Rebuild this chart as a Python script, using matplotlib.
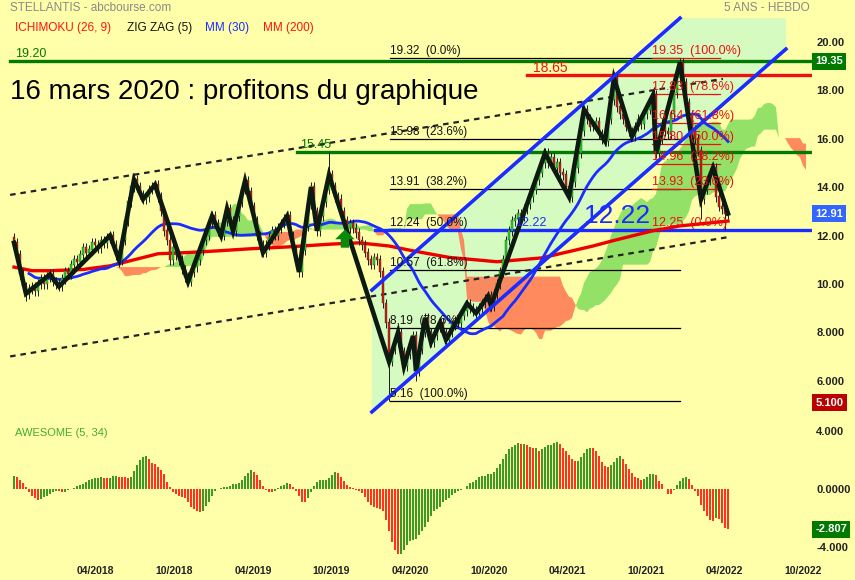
import matplotlib
matplotlib.use("Agg")
import matplotlib.pyplot as plt
import numpy as np
import pandas as pd

plt.rcParams['font.family'] = ['Liberation Sans', 'DejaVu Sans']

# weekly closes, one per week (oct 2017 -> apr 2022)
closes = [
    11.7, 11.2, 10.4, 9.9, 9.6,
    9.8, 9.9, 9.7, 10.0, 10.2, 10.0, 10.3, 10.4,
    10.1, 10.0, 9.9,
    10.2, 10.5, 10.4, 10.8, 11.0, 10.9, 11.2, 11.5, 11.3, 11.4, 11.7, 11.6, 11.5, 11.8, 11.7, 11.9, 12.0,
    11.6, 11.2, 11.0,
    11.8, 12.6, 13.4, 14.0, 14.3,
    14.0, 13.7, 13.5,
    13.6, 13.9, 14.0, 14.1,
    13.6, 13.0, 12.2, 11.8, 11.0, 11.5, 11.2, 11.0, 10.6, 10.3, 10.1,
    10.5, 10.7, 11.0, 11.4, 11.8, 12.0, 12.5, 12.8,
    12.5, 12.2, 12.0,
    12.6, 13.1,
    12.6, 12.2,
    12.8, 13.4, 13.9, 14.25,
    13.8, 13.2, 12.6, 12.0, 11.6, 11.3,
    11.6, 11.9, 12.2, 12.0, 12.3, 12.5, 12.7, 12.8,
    12.0, 11.4, 10.9, 10.5,
    11.4, 12.4, 13.3, 14.0,
    13.0, 12.2,
    12.8, 13.4, 13.9, 14.5,
    14.0, 13.6, 13.5, 13.0, 12.6, 12.3, 12.5, 12.3, 12.1, 11.8, 11.6, 11.3, 11.0, 10.8, 11.1, 11.0, 10.5, 9.2, 8.4,
    6.8,
    7.3, 7.6, 8.0,
    7.2, 6.6,
    7.1, 7.5, 7.85,
    6.4,
    7.3, 8.0, 8.6,
    8.0, 7.6,
    7.9, 8.2, 8.4,
    8.0, 7.7,
    8.0, 8.3, 8.5, 8.4, 8.7, 8.9, 9.2,
    9.0, 8.9, 8.8,
    9.0, 9.2, 9.4, 9.5,
    9.1,
    9.6, 10.0, 10.5,
    11.0, 11.8, 12.2, 12.6, 12.7, 12.9,
    12.8, 13.1, 13.3, 13.6, 13.9, 14.3, 14.6, 15.0, 15.4,
    15.0, 15.2, 14.8, 15.0, 14.6, 14.5, 14.0, 13.6,
    14.2, 14.8, 15.4, 16.3, 17.2,
    16.8, 16.5, 16.5, 16.7, 16.2, 16.0, 15.9,
    16.8, 17.6, 18.5,
    17.3, 17.0, 16.8, 16.5, 16.3, 16.1,
    16.5, 16.8, 16.6, 17.0, 17.2, 17.5, 17.8,
    15.4,
    16.0, 16.6, 16.3, 16.2, 17.0, 17.9, 18.5, 19.15,
    18.3, 17.5, 17.0, 16.35, 16.0, 15.5, 13.5,
    13.9, 14.3, 14.6, 14.8,
    13.6, 13.2, 13.1, 12.9, 12.91,
]
first_open = 11.9
long_highs = {40: 14.6, 105: 15.45, 200: 18.75, 222: 19.35}
long_lows = {4: 9.3, 125: 5.16, 134: 6.0, 229: 12.7, 237: 12.25}

# awesome oscillator (5, 34), one bar per week
ao = [
    0.90, 0.81, 0.62, 0.42, 0.16, -0.19, -0.46, -0.65, -0.74, -0.72,
    -0.56, -0.51, -0.32, -0.19, -0.12, -0.14, -0.20, -0.18, -0.05, 0.00,
    0.07, 0.20, 0.28, 0.35, 0.46, 0.62, 0.69, 0.76, 0.78, 0.80,
    0.76, 0.75, 0.79, 0.90, 0.91, 0.83, 0.82, 0.81, 0.76, 0.83,
    1.25, 1.67, 2.00, 2.22, 2.29, 2.08, 1.81, 1.74, 1.53, 1.32,
    1.04, 0.49, 0.14, -0.19, -0.32, -0.46, -0.56, -0.60, -0.88, -1.23,
    -1.39, -1.53, -1.62, -1.53, -1.16, -0.88, -0.46, -0.12, 0.00, 0.07,
    0.14, 0.15, 0.21, 0.35, 0.36, 0.42, 0.62, 0.90, 1.11, 1.32,
    1.18, 0.97, 0.62, 0.21, -0.05, -0.19, -0.20, -0.12, 0.05, 0.21,
    0.28, 0.42, 0.35, 0.14, -0.12, -0.46, -0.88, -0.89, -0.60, -0.19,
    0.21, 0.49, 0.62, 0.63, 0.64, 0.76, 0.97, 1.18, 1.11, 0.83,
    0.56, 0.28, 0.14, 0.07, -0.05, -0.12, -0.25, -0.53, -0.88, -1.09,
    -1.23, -1.30, -1.37, -1.50, -2.13, -2.89, -3.66, -4.21, -4.49, -4.48,
    -4.21, -3.87, -3.59, -3.52, -3.45, -3.17, -2.89, -2.62, -2.27, -1.85,
    -1.50, -1.37, -1.23, -0.88, -0.74, -0.60, -0.39, -0.25, -0.12, -0.05,
    -0.03, 0.21, 0.42, 0.49, 0.62, 0.83, 0.90, 0.91, 1.04, 1.05,
    1.18, 1.46, 1.74, 2.08, 2.43, 2.78, 2.92, 3.06, 3.19, 3.13,
    3.14, 3.06, 2.92, 2.85, 2.86, 2.64, 2.78, 2.92, 3.06, 3.07,
    3.19, 3.26, 3.13, 2.85, 2.64, 2.36, 2.08, 1.94, 1.95, 2.22,
    2.50, 2.78, 2.85, 2.84, 2.64, 2.29, 1.88, 1.60, 1.53, 1.67,
    1.88, 2.15, 2.29, 2.08, 1.74, 1.39, 1.11, 0.83, 0.76, 0.62,
    0.69, 0.83, 1.04, 1.05, 0.97, 0.56, 0.35, -0.02, -0.35, -0.36,
    -0.05, 0.28, 0.56, 0.76, 0.83, 0.69, 0.28, -0.12, -0.49, -1.11,
    -1.53, -1.88, -2.15, -2.22, -2.01, -2.08, -2.36, -2.71, -2.81,
]

# MM(200) read at a few weeks
mm200_idx = [0, 6, 12, 23, 32, 40, 48, 58, 68, 78, 91, 106, 115, 125, 133, 145, 161, 176, 193, 200, 213, 222, 238]
mm200_val = [10.7, 10.55, 10.55, 10.6, 10.75, 11.0, 11.25, 11.3, 11.37, 11.45, 11.53, 11.65, 11.7,
             11.57, 11.37, 11.1, 10.92, 11.08, 11.57, 11.8, 12.2, 12.4, 12.6]

# zigzag (5) pivot weeks
zz_idx = [0, 4, 12, 15, 32, 35, 40, 43, 47, 58, 66, 69, 71, 73, 77, 83, 91, 95, 99, 101, 105,
          125, 128, 130, 133, 134, 137, 139, 142, 144, 151, 154, 158, 159, 177, 185, 190, 197,
          200, 206, 213, 214, 222, 229, 233, 238]

fib1_levels = [19.32, 15.98, 13.91, 12.24, 10.57, 8.19, 5.16]
fib1_pcts = ['0.0%', '23.6%', '38.2%', '50.0%', '61.8%', '78.6%', '100.0%']
fib2_levels = [19.35, 17.83, 16.64, 15.80, 14.96, 13.93, 12.25]
fib2_pcts = ['100.0%', '78.6%', '61.8%', '50.0%', '38.2%', '23.6%', '0.0%']

# trend channels (week, price) at both ends
chan_up = [(119.3, 9.75), (222.0, 20.98)]
chan_lo = [(119.3, 4.72), (257.3, 19.70)]
dash_up = [(-1.3, 13.68), (236.3, 18.47)]
dash_lo = [(-1.3, 7.01), (238.7, 11.95)]

date_ticks = [27, 53.5, 79.8, 105.8, 132, 158.3, 184.3, 210.7, 236.7, 262.9]
date_labels = ['04/2018', '10/2018', '04/2019', '10/2019', '04/2020',
               '10/2020', '04/2021', '10/2021', '04/2022', '10/2022']
price_ticks = [6, 8, 10, 12, 14, 16, 18, 20]
price_labels = ['6.000', '8.000', '10.00', '12.00', '14.00', '16.00', '18.00', '20.00']

BG = '#ffffaa'
n = len(closes)
idx = np.arange(n)
c = np.array(closes)
o = np.concatenate([[first_open], c[:-1]])
hi = np.maximum(o, c) + 0.2
lo = np.minimum(o, c) - 0.2
for k, v in long_highs.items():
    hi[k] = v
for k, v in long_lows.items():
    lo[k] = v

fig = plt.figure(figsize=(8.55, 5.8), dpi=100, facecolor=BG)
ax = fig.add_axes([0, 160 / 580, 812 / 855, 420 / 580], facecolor=BG)
ax2 = fig.add_axes([0, 20 / 580, 812 / 855, 140 / 580], facecolor=BG)
for a in (ax, ax2):
    a.set_xlim(-14 / 3, 266)
    for s in a.spines.values():
        s.set_visible(False)
ax.set_ylim(4.386, 21.727)
ax2.set_ylim(-4.93, 4.79)

# channel background
ax.fill([chan_lo[0][0], chan_lo[1][0], chan_lo[1][0], chan_up[1][0], chan_up[0][0]],
        [chan_lo[0][1], chan_lo[1][1], chan_up[1][1], chan_up[1][1], chan_up[0][1]],
        color='#d6fbc0', lw=0, zorder=1)

# ichimoku cloud
h = pd.Series(hi)
l = pd.Series(lo)
tenkan = (h.rolling(9, min_periods=1).max() + l.rolling(9, min_periods=1).min()) / 2
kijun = (h.rolling(26, min_periods=1).max() + l.rolling(26, min_periods=1).min()) / 2
span_a = ((tenkan + kijun) / 2).values
span_b = ((h.rolling(52, min_periods=1).max() + l.rolling(52, min_periods=1).min()) / 2).values
xc = idx + 26
ax.fill_between(xc, span_a, span_b, where=span_a >= span_b, interpolate=True,
                color='#80dc5c', alpha=0.85, lw=0, zorder=2)
ax.fill_between(xc, span_a, span_b, where=span_a < span_b, interpolate=True,
                color='#ff7650', alpha=0.85, lw=0, zorder=2)

# fibonacci retracements
for v, p in zip(fib1_levels, fib1_pcts):
    ax.plot([125.3, 222], [v, v], color='black', lw=0.9, zorder=3)
    ax.text(125.3, v + 0.04, '%.2f  (%s)' % (v, p), fontsize=8.5, color='#111111',
            va='bottom', ha='left', zorder=9)
for v, p in zip(fib2_levels, fib2_pcts):
    ax.plot([212.7, 235.3], [v, v], color='#ee1111', lw=0.9, zorder=3)
    ax.text(212.7, v + 0.04, '%.2f  (%s)' % (v, p), fontsize=9, color='#ee1111',
            va='bottom', ha='left', zorder=9)

# dashed channel
for d in (dash_up, dash_lo):
    ax.plot([d[0][0], d[1][0]], [d[0][1], d[1][1]], color='#222222', lw=1.6,
            dashes=(2.5, 2.2), zorder=3)

# horizontal levels
ax.plot([-1.3, 265.3], [19.20, 19.20], color='#007a00', lw=2.4, zorder=4)
ax.plot([94.3, 265.3], [15.45, 15.45], color='#007a00', lw=2.4, zorder=4)
ax.plot([171, 265.3], [18.65, 18.65], color='#ee1111', lw=2.4, zorder=4)
ax.plot([120.3, 265.3], [12.22, 12.22], color='#1a2cff', lw=2.4, zorder=4)
ax.text(0.4, 19.26, '19.20', color='#007a00', fontsize=9, va='bottom')
ax.text(95.3, 15.51, '15.45', color='#007a00', fontsize=9, va='bottom')
ax.text(173, 18.93, '18.65', color='#ee1111', fontsize=10, va='center', zorder=9)
ax.text(167, 12.28, '12.22', color='#1a2cff', fontsize=9, va='bottom', zorder=9)
ax.text(190, 12.3, '12.22', color='#1a2cff', fontsize=19, va='bottom', zorder=9)

# moving averages
ax.plot(mm200_idx, mm200_val, color='#ee0000', lw=2.4, zorder=5)
mm30 = pd.Series(c).rolling(30, min_periods=1).mean().values
ax.plot(idx[5:], mm30[5:], color='#1a2cff', lw=2.0, zorder=5)

# candles
up = c >= o
ax.vlines(idx, lo, hi, color='#1a1a1a', lw=0.7, zorder=6)
ax.bar(idx, np.abs(c - o) + 0.03, bottom=np.minimum(o, c), width=0.7,
       color=np.where(up, '#22dd22', '#dd1111'), edgecolor='#204020', lw=0.3, zorder=6)

# zigzag
ax.plot(zz_idx, c[zz_idx], color='#0c1a12', lw=3.3, solid_joinstyle='miter', zorder=7)

# blue channel
for ch in (chan_up, chan_lo):
    ax.plot([ch[0][0], ch[1][0]], [ch[0][1], ch[1][1]], color='#1a2cff', lw=2.6, zorder=8)

# buy arrow
ax.annotate('', xy=(110.3, 12.25), xytext=(110.3, 11.5),
            arrowprops=dict(facecolor='#0a8a0a', edgecolor='none', width=6,
                            headwidth=14, headlength=7), zorder=8)

# price axis labels
ax.yaxis.tick_right()
ax.set_yticks(price_ticks)
ax.set_yticklabels(price_labels)
ax.tick_params(axis='y', length=0, pad=3, labelsize=8, labelcolor='#222222')
ax.set_xticks([])
for lab in ax.get_yticklabels():
    lab.set_fontweight('bold')
tr = ax.get_yaxis_transform()
for val, txt, col in [(19.2, '19.35', '#007a00'), (12.91, '12.91', '#3366ff'), (5.1, '5.100', '#bb0000')]:
    ax.text(1.004, val, txt, transform=tr, color='white', fontsize=8, fontweight='bold',
            va='center', ha='left', clip_on=False,
            bbox=dict(boxstyle='square,pad=0.3', facecolor=col, edgecolor='none'))

# awesome oscillator
ao_arr = np.array(ao)
ao_col = ['#3c9a22'] + ['#3c9a22' if ao_arr[i] > ao_arr[i - 1] else '#ff3322' for i in range(1, len(ao_arr))]
ax2.bar(np.arange(len(ao_arr)), ao_arr, width=0.68, color=ao_col, lw=0)
ax2.yaxis.tick_right()
ax2.set_yticks([-4, 0, 4])
ax2.set_yticklabels(['-4.000', '0.0000', '4.000'])
ax2.tick_params(axis='y', length=0, pad=3, labelsize=8, labelcolor='#222222')
ax2.set_xticks(date_ticks)
ax2.set_xticklabels(date_labels)
ax2.tick_params(axis='x', length=0, pad=4, labelsize=7.5, labelcolor='#222222')
for lab in ax2.get_yticklabels() + ax2.get_xticklabels():
    lab.set_fontweight('bold')
ax2.text(1.004, -2.807, '-2.807', transform=ax2.get_yaxis_transform(), color='white',
         fontsize=8, fontweight='bold', va='center', ha='left', clip_on=False,
         bbox=dict(boxstyle='square,pad=0.3', facecolor='#007a00', edgecolor='none'))

# header texts (pixel positions)
def fx(x):
    return x / 855

def fy(y):
    return 1 - y / 580

fig.text(fx(10), fy(8), 'STELLANTIS - abcbourse.com', color='#888888', fontsize=8.5, va='center')
fig.text(fx(810), fy(8), '5 ANS - HEBDO', color='#888888', fontsize=8.5, va='center', ha='right')
fig.text(fx(15), fy(28), 'ICHIMOKU (26, 9)', color='#ff1111', fontsize=8.5, va='center')
fig.text(fx(127), fy(28), 'ZIG ZAG (5)', color='#111111', fontsize=8.5, va='center')
fig.text(fx(205), fy(28), 'MM (30)', color='#1a2cff', fontsize=8.5, va='center')
fig.text(fx(263), fy(28), 'MM (200)', color='#ff1111', fontsize=8.5, va='center')
fig.text(fx(10), fy(92), '16 mars 2020 : profitons du graphique', color='black', fontsize=20, va='center')
fig.text(fx(15), fy(433), 'AWESOME (5, 34)', color='#44aa33', fontsize=8, va='center')

fig.savefig('out.png', dpi=100, facecolor=BG)
